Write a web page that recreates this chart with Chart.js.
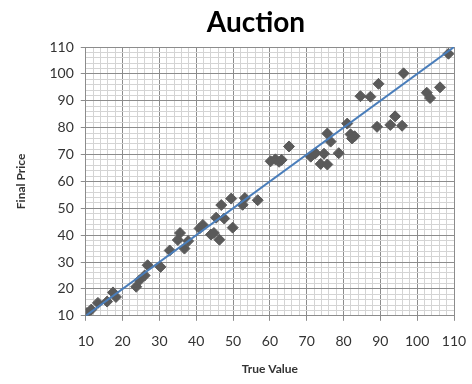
<!DOCTYPE html>
<html>
<head>
<meta charset="utf-8">
<script src="https://cdn.jsdelivr.net/npm/chart.js@4.4.1/dist/chart.umd.min.js"></script>
<style>
  body { margin: 0; background: #fff; }
  #wrap { width: 472px; height: 384px; position: relative; }
</style>
</head>
<body>
<div id="wrap"><canvas id="auctionChart"></canvas></div>
<script>
// true value vs final price
var trueValue = [10.3, 11.5, 13.3, 15.8, 17.4, 18.2, 23.7, 24.6, 26, 26.8,
  30.3, 32.8, 35, 35.6, 36.8, 37.8, 40.9, 41.8, 44, 44.8,
  46.3, 45.4, 47.6, 46.8, 49.5, 49.9, 52.6, 53.2, 56.7, 60.2,
  61.5, 62.5, 63.2, 65.2, 71.1, 72.4, 73.8, 74.7, 75.6, 75.6,
  76.5, 78.7, 81, 81.9, 83, 82.3, 84.6, 87.3, 89.5, 89.1,
  92.7, 94, 95.9, 96.3, 102.6, 103.5, 106.2, 108.5];
var finalPrice = [11, 12.3, 14.8, 15.3, 18.7, 17, 20.8, 23.2, 25, 28.8,
  28.2, 34.3, 38.2, 40.8, 35, 37.8, 42.5, 43.8, 40.2, 40.8,
  38.3, 46.5, 46.2, 51.2, 53.6, 42.8, 51.3, 53.8, 53, 67.5,
  68.2, 67.3, 68, 73, 69.2, 70.5, 66.5, 70.3, 66.3, 77.8,
  74.8, 70.5, 81.5, 77.5, 76.8, 76, 91.7, 91.5, 96.3, 80.3,
  81, 84.2, 80.7, 100.2, 93, 91, 95, 107.5];

// the y = x line
var lineX = [10, 110];
var lineY = [10, 110];

var axisMin = 10;
var axisMax = 110;

var points = trueValue.map(function (v, i) { return { x: v, y: finalPrice[i] }; });
var linePts = lineX.map(function (v, i) { return { x: v, y: lineY[i] }; });

function isMajor(v) { return Math.abs(v % 10) < 0.001 || Math.abs(v % 10 - 10) < 0.001; }
function gridColor(c) {
  return isMajor(c.tick.value) ? '#8c8c8c' : '#d4d4d4';
}
function tickColor(c) {
  return isMajor(c.tick.value) ? '#8c8c8c' : 'rgba(0,0,0,0)';
}
function label(v) { return isMajor(v) ? Math.round(v) : ''; }

// title centred where the reference has it
var titlePlugin = {
  id: 'titleText',
  afterDraw: function (chart) {
    var c = chart.ctx;
    c.save();
    c.font = 'bold 28px Lato';
    c.fillStyle = '#000';
    c.textAlign = 'center';
    c.textBaseline = 'middle';
    c.fillText('Auction', 256, 23);
    c.restore();
  }
};

var ctx = document.getElementById('auctionChart').getContext('2d');
var chart = new Chart(ctx, {
  type: 'scatter',
  data: {
    datasets: [{
      type: 'line',
      label: 'line',
      data: linePts,
      borderColor: '#4a7ebb',
      borderWidth: 2,
      pointRadius: 0,
      fill: false,
      order: 0
    }, {
      label: 'Auction',
      data: points,
      pointStyle: 'rectRot',
      pointRadius: 5.5,
      backgroundColor: '#5a5a5a',
      borderColor: '#5a5a5a',
      borderWidth: 1,
      order: 1
    }]
  },
  options: {
    responsive: true,
    maintainAspectRatio: false,
    animation: false,
    layout: { padding: { top: 47, left: 10, right: 0, bottom: 8 } },
    plugins: {
      legend: { display: false },
      tooltip: { enabled: false }
    },
    scales: {
      x: {
        type: 'linear',
        min: axisMin,
        max: axisMax,
        // the tick padding would otherwise eat space on the right
        afterFit: function (scale) { scale.paddingRight = 18; },
        border: { color: '#8c8c8c' },
        grid: { color: gridColor, tickColor: tickColor, tickLength: 5 },
        ticks: {
          stepSize: 2,
          autoSkip: false,
          maxRotation: 0,
          padding: 12,
          color: '#333',
          font: { family: 'Lato', size: 14 },
          callback: label
        },
        title: {
          display: true,
          text: 'True Value',
          color: '#333',
          font: { family: 'Lato', size: 12, weight: 'bold' },
          padding: { top: 0, bottom: 0 }
        }
      },
      y: {
        type: 'linear',
        min: axisMin,
        max: axisMax,
        border: { color: '#8c8c8c' },
        grid: { color: gridColor, tickColor: tickColor, tickLength: 5 },
        ticks: {
          stepSize: 2,
          autoSkip: false,
          padding: 7,
          color: '#333',
          font: { family: 'Lato', size: 14 },
          callback: label
        },
        title: {
          display: true,
          text: 'Final Price',
          color: '#333',
          font: { family: 'Lato', size: 12, weight: 'bold' },
          padding: { top: 4, bottom: 14 }
        }
      }
    }
  },
  plugins: [titlePlugin]
});
</script>
</body>
</html>
